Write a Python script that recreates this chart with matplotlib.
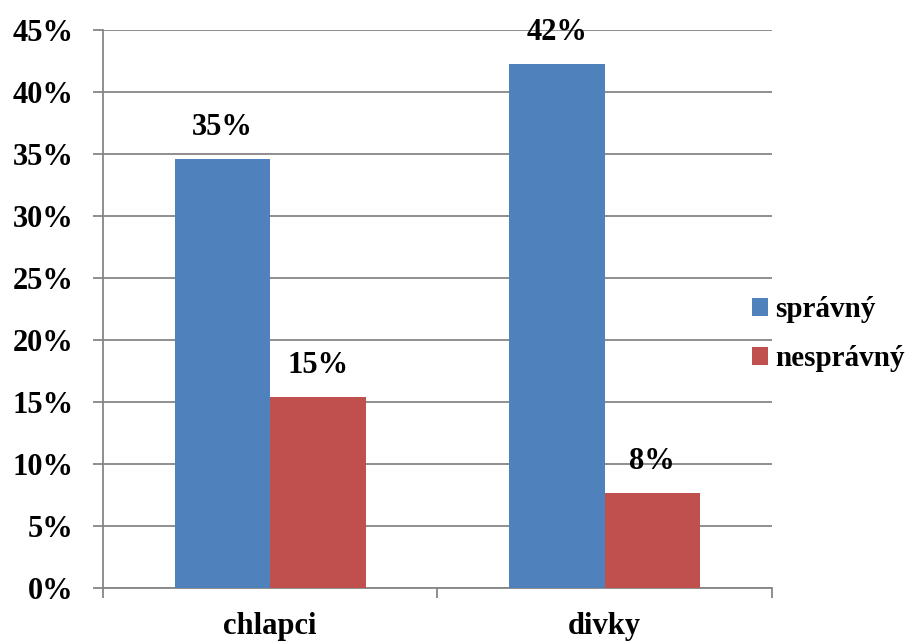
import matplotlib
matplotlib.use('Agg')
import matplotlib.pyplot as plt
from matplotlib.ticker import FuncFormatter, FixedLocator
import numpy as np

categories = ['chlapci', 'divky']
series_names = ['správný', 'nesprávný']
spravny = [34.6, 42.3]
nespravny = [15.4, 7.7]
value_labels = [['35%', '42%'], ['15%', '8%']]

colors = ['#4F81BD', '#C0504D']
grid_color = '#868686'

plt.rcParams['font.family'] = ['Liberation Serif', 'DejaVu Serif']
plt.rcParams['font.weight'] = 'bold'

fig = plt.figure(figsize=(9.2, 6.44), dpi=100)
ax = fig.add_axes([0.112, 0.087, 0.727, 0.866])

x = np.arange(len(categories))
w = 0.285
series = [spravny, nespravny]
for i, vals in enumerate(series):
    pos = x + (i - 0.5) * w
    bars = ax.bar(pos, vals, width=w, color=colors[i], label=series_names[i], zorder=3)
    for b, lab in zip(bars, value_labels[i]):
        ax.annotate(lab, xy=(b.get_x() + b.get_width() / 2, b.get_height()),
                    xytext=(0, 12), textcoords='offset points',
                    ha='center', va='bottom', fontsize=22, fontweight='bold', zorder=4)

ax.set_xlim(-0.5, len(categories) - 0.5)
ax.set_ylim(0, 45)
ax.set_yticks(np.arange(0, 46, 5))
ax.yaxis.set_major_formatter(FuncFormatter(lambda v, p: f'{int(v)}%'))
ax.grid(axis='y', color=grid_color, linewidth=1.3, zorder=0)

ax.set_xticks(x)
ax.set_xticklabels(categories)
ax.xaxis.set_minor_locator(FixedLocator(np.arange(-0.5, len(categories), 1)))
ax.tick_params(axis='x', which='major', length=0, pad=17, labelsize=22)
ax.tick_params(axis='x', which='minor', length=7, width=1.3, color=grid_color, direction='out')
ax.tick_params(axis='y', length=7, width=1.3, color=grid_color, pad=14, labelsize=22)

for s in ['top', 'right']:
    ax.spines[s].set_visible(False)
for s in ['left', 'bottom']:
    ax.spines[s].set_color(grid_color)
    ax.spines[s].set_linewidth(1.3)
ax.spines['left'].set_zorder(5)

ax.legend(loc='center left', bbox_to_anchor=(0.953, 0.455), frameon=False,
          fontsize=21, handlelength=0.55, handleheight=0.55, handletextpad=0.25,
          labelspacing=0.75, borderaxespad=0)

fig.savefig('out.png', dpi=100)
